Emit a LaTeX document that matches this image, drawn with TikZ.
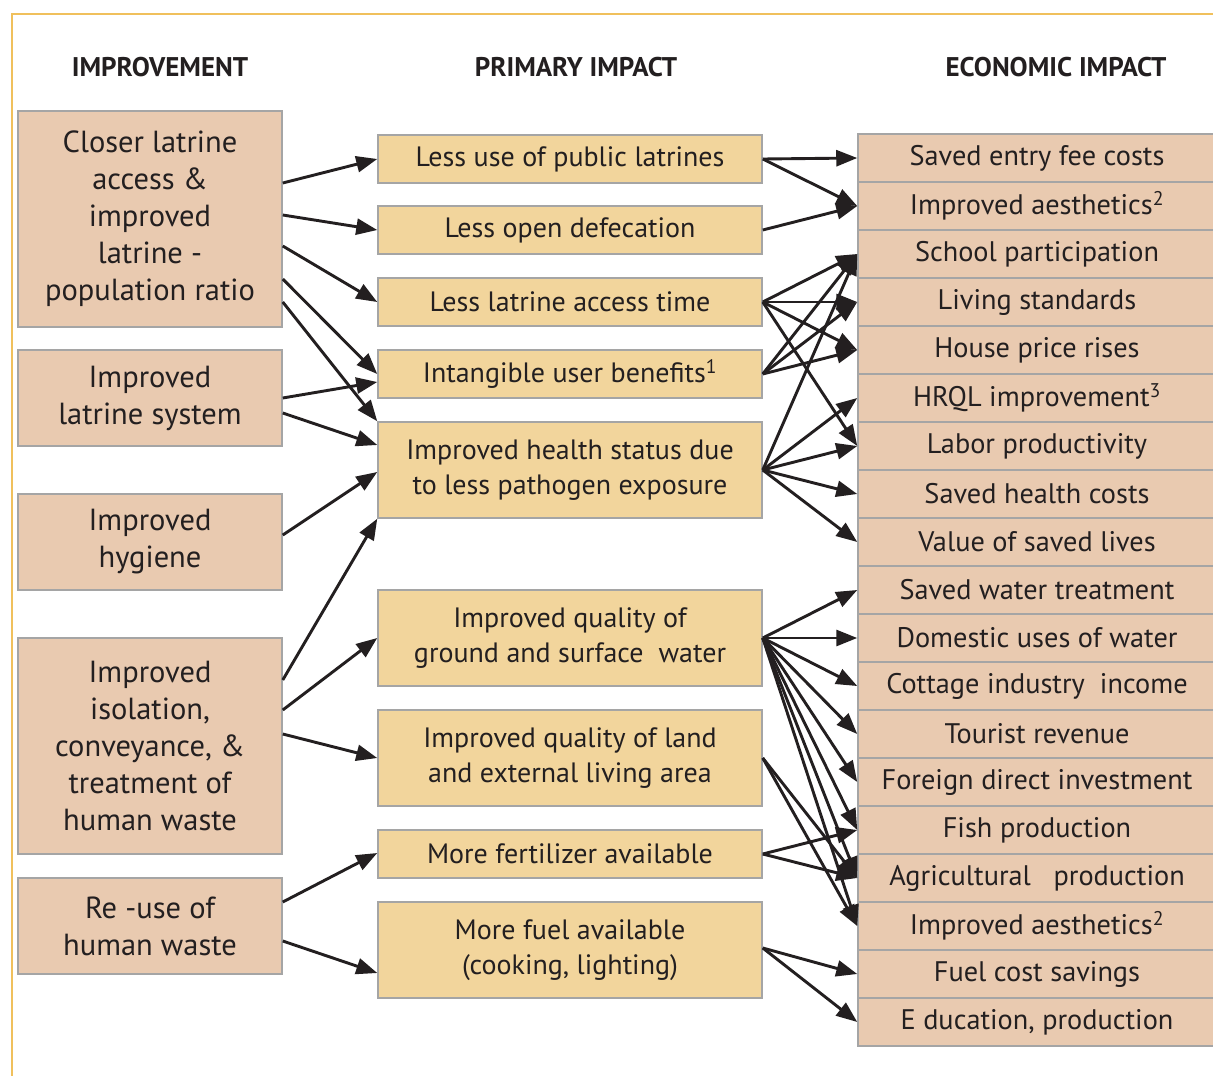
\documentclass[tikz,border=0pt]{standalone}
\usepackage{fontspec}
\setmainfont{PT Sans}
\usetikzlibrary{arrows.meta}
\definecolor{peach}{RGB}{233,202,176}
\definecolor{sand}{RGB}{242,213,156}
\definecolor{edge}{RGB}{165,165,165}
\definecolor{ink}{RGB}{35,31,32}
\definecolor{framec}{RGB}{240,192,92}
\begin{document}
\begin{tikzpicture}[x=1pt,y=-1pt,
  impbox/.style={draw=edge, line width=1.5pt, fill=peach, minimum width=264pt, align=center, text=ink, font=\fontsize{30.5}{37}\selectfont, inner sep=0pt},
  pribox/.style={draw=edge, line width=1.5pt, fill=sand, minimum width=384pt, align=center, text=ink, font=\fontsize{28}{34.5}\selectfont, inner sep=0pt},
  ecobox/.style={draw=edge, line width=1.5pt, fill=peach, minimum width=358pt, minimum height=48pt, text=ink, font=\fontsize{28.3}{30}\selectfont, inner sep=0pt},
  hdr/.style={text=ink, font=\bfseries\fontsize{27}{30}\selectfont},
  arr/.style={draw=ink, line width=2.9pt, -{Triangle[length=21pt,width=16pt]}},
]
\clip (0,0) rectangle (1213,1076);
\fill[white] (0,0) rectangle (1213,1076);
\draw[framec, line width=2pt] (12,1090) -- (12,14) -- (1230,14);

% headers
\node[hdr] (h1) at (160,67) {IMPROVEMENT};
\node[hdr] (h2) at (576,67) {PRIMARY IMPACT};
\node[hdr] (h3) at (1056,67) {ECONOMIC IMPACT};

% improvement column
\node[impbox, minimum height=216pt] (clo) at (150,219) {Closer latrine\\access \&\\improved\\latrine -\\population ratio};
\node[impbox, minimum height=96pt] (ils) at (150,398) {Improved\\latrine system};
\node[impbox, minimum height=96pt] (hyg) at (150,542) {Improved\\hygiene};
\node[impbox, minimum height=216pt] (iso) at (150,746) {Improved\\isolation,\\conveyance, \&\\treatment of\\human waste};
\node[impbox, minimum height=96pt] (reu) at (150,926) {Re -use of\\human waste};

% primary column
\node[pribox, minimum height=48pt] (p1) at (570,159) {Less use of public latrines};
\node[pribox, minimum height=48pt] (p2) at (570,230) {Less open defecation};
\node[pribox, minimum height=48pt] (p3) at (570,302) {Less latrine access time};
\node[pribox, minimum height=48pt] (p4) at (570,374) {Intangible user benefits\textsuperscript{1}};
\node[pribox, minimum height=96pt] (p5) at (570,470) {Improved health status due\\to less pathogen exposure};
\node[pribox, minimum height=96pt] (p6) at (570,638) {Improved quality of\\ground and surface\ \ water};
\node[pribox, minimum height=96pt] (p7) at (570,758) {Improved quality of land\\and external living area};
\node[pribox, minimum height=48pt] (p8) at (570,854) {More fertilizer available};
\node[pribox, minimum height=96pt] (p9) at (570,950) {More fuel available\\(cooking, lighting)};

% economic column
\node[ecobox] (e1) at (1037,158) {Saved entry fee costs};
\node[ecobox] (e2) at (1037,206) {Improved aesthetics\textsuperscript{2}};
\node[ecobox] (e3) at (1037,254) {School participation};
\node[ecobox] (e4) at (1037,302) {Living standards};
\node[ecobox] (e5) at (1037,350) {House price rises};
\node[ecobox] (e6) at (1037,398) {HRQL improvement\textsuperscript{3}};
\node[ecobox] (e7) at (1037,446) {Labor productivity};
\node[ecobox] (e8) at (1037,494) {Saved health costs};
\node[ecobox] (e9) at (1037,542) {Value of saved lives};
\node[ecobox] (e10) at (1037,590) {Saved water treatment};
\node[ecobox] (e11) at (1037,638) {Domestic uses of water};
\node[ecobox] (e12) at (1037,686) {Cottage industry\ \ income};
\node[ecobox] (e13) at (1037,734) {Tourist revenue};
\node[ecobox] (e14) at (1037,782) {Foreign direct investment};
\node[ecobox] (e15) at (1037,830) {Fish production};
\node[ecobox] (e16) at (1037,878) {Agricultural\ \ \ production};
\node[ecobox] (e17) at (1037,926) {Improved aesthetics\textsuperscript{2}};
\node[ecobox] (e18) at (1037,974) {Fuel cost savings};
\node[ecobox] (e19) at (1037,1022) {E ducation, production};

% improvement -> primary
\draw[arr] ([yshift=36pt]clo.east) -- (p1.west);
\draw[arr] ([yshift=4pt]clo.east) -- (p2.west);
\draw[arr] ([yshift=-27pt]clo.east) -- (p3.west);
\draw[arr] ([yshift=-60pt]clo.east) -- (p4.west);
\draw[arr] ([yshift=-83pt]clo.east) -- (p5.north west);
\draw[arr] (ils.east) -- ([yshift=-8pt]p4.west);
\draw[arr] ([yshift=-15pt]ils.east) -- ([yshift=25pt]p5.west);
\draw[arr] ([yshift=7pt]hyg.east) -- ([yshift=-2pt]p5.west);
\draw[arr] ([yshift=66pt]iso.east) -- (p5.south west);
\draw[arr] ([yshift=36pt]iso.east) -- (p6.west);
\draw[arr] ([yshift=12pt]iso.east) -- (p7.west);
\draw[arr] ([yshift=24pt]reu.east) -- ([yshift=1pt]p8.west);
\draw[arr] ([yshift=-15pt]reu.east) -- ([yshift=-23pt]p9.west);

% primary -> economic
\draw[arr] (p1.east) -- (e1.west);
\draw[arr] (p1.east) -- (e2.west);
\draw[arr] (p2.east) -- (e2.west);
\foreach \t in {e3,e4,e5,e7} \draw[arr] (p3.east) -- (\t.west);
\foreach \t in {e3,e4,e5} \draw[arr] (p4.east) -- (\t.west);
\foreach \t in {e3,e6,e7,e8,e9} \draw[arr] (p5.east) -- (\t.west);
\foreach \t in {e10,e11,e12,e13,e14,e15,e16,e17} \draw[arr] (p6.east) -- (\t.west);
\foreach \t in {e16,e17} \draw[arr] (p7.east) -- (\t.west);
\foreach \t in {e15,e16} \draw[arr] (p8.east) -- (\t.west);
\foreach \t in {e18,e19} \draw[arr] ([yshift=2pt]p9.east) -- (\t.west);
\end{tikzpicture}
\end{document}
